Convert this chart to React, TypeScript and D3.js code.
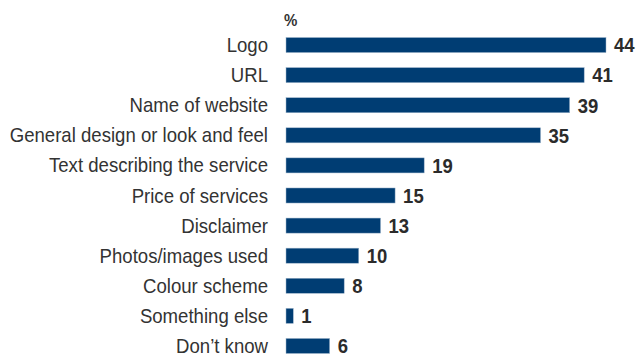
import React from "react";
import * as d3 from "d3";

const categories = [
  "Logo",
  "URL",
  "Name of website",
  "General design or look and feel",
  "Text describing the service",
  "Price of services",
  "Disclaimer",
  "Photos/images used",
  "Colour scheme",
  "Something else",
  "Don\u2019t know",
];
const values = [44, 41, 39, 35, 19, 15, 13, 10, 8, 1, 6];
const unitLabel = "%";

const W = 637;
const H = 356;
const SY = 1.08;

export default function App() {
  const x = d3.scaleLinear().domain([0, 44]).range([286, 606]);
  const y = d3
    .scaleBand<string>()
    .domain(categories)
    .range([30, 361])
    .paddingInner(0.5)
    .paddingOuter(0.25);
  const bw = y.bandwidth();
  return (
    <div style={{ position: "absolute", left: 0, top: 0 }}>
      <svg width={W} height={H} style={{ display: "block", fontFamily: "Liberation Sans, Arial, sans-serif" }}>
        <rect x={0} y={0} width={W} height={H} fill="#fff" />
        <text transform={`translate(284,26) scale(1,${SY})`} fontSize={15} fontWeight="bold" fill="#333">
          {unitLabel}
        </text>
        {categories.map((c, i) => {
          const yy = y(c)!;
          const v = values[i];
          const cy = yy + bw / 2;
          return (
            <g key={c}>
              <text
                transform={`translate(268,${cy}) scale(1,${SY})`}
                dy="0.35em"
                textAnchor="end"
                fontSize={18.6}
                fill="#333"
              >
                {c}
              </text>
              <rect
                x={x(0)}
                y={yy}
                width={x(v) - x(0)}
                height={bw}
                fill="#003d73"
                stroke="#9fb6cc"
                strokeWidth={0.5}
              />
              <text
                transform={`translate(${x(v) + 8},${cy + 0.3}) scale(1,${SY})`}
                dy="0.35em"
                fontSize={18.5}
                fontWeight="bold"
                fill="#2b2b2b"
              >
                {v}
              </text>
            </g>
          );
        })}
      </svg>
    </div>
  );
}
